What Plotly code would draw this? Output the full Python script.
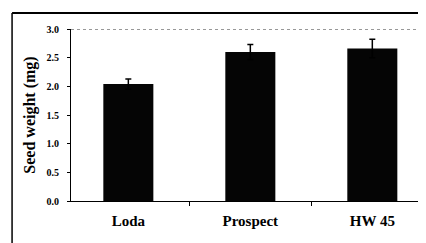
import plotly.graph_objects as go

categories = ["Loda", "Prospect", "HW 45"]
seed_weight = [2.04, 2.60, 2.66]
seed_err = [0.09, 0.13, 0.16]
y_ticks = [0.0, 0.5, 1.0, 1.5, 2.0, 2.5, 3.0]

FONT = "Liberation Serif, Times New Roman, serif"

fig = go.Figure(go.Bar(
    x=categories, y=seed_weight,
    marker=dict(color="#050505", line=dict(width=0)),
    width=0.41,
    error_y=dict(type="data", array=seed_err, visible=True, color="black",
                 thickness=1.5, width=3),
))

fig.update_layout(
    width=418, height=235,
    margin=dict(l=63, r=0, t=21, b=42),
    paper_bgcolor="white", plot_bgcolor="white",
    showlegend=False,
    font=dict(family=FONT, color="black"),
    xaxis=dict(
        type="category", range=[-0.47, 2.44],
        tickson="boundaries", ticks="outside", ticklen=4, tickcolor="black",
        showline=True, linecolor="black", linewidth=1,
        showgrid=False, ticklabelstandoff=6,
        tickfont=dict(family=FONT, size=15, color="black", weight="bold"),
    ),
    yaxis=dict(
        range=[0, 3.0], tickvals=y_ticks,
        ticktext=[f"{v:.1f}" for v in y_ticks],
        ticks="outside", ticklen=3, tickcolor="black",
        showline=True, linecolor="black", linewidth=1,
        showgrid=False, zeroline=False, ticklabelstandoff=6,
        tickfont=dict(family=FONT, size=10, color="black", weight="bold"),
        title=dict(text="Seed weight (mg)", standoff=6,
                   font=dict(family=FONT, size=16, color="black", weight="bold")),
    ),
    shapes=[
        dict(type="line", xref="paper", yref="y", x0=0, x1=1, y0=3.0, y1=3.0,
             line=dict(color="#333333", width=1, dash="dot")),
        dict(type="line", xref="paper", yref="paper", x0=-0.166, x1=1.0,
             y0=1.093, y1=1.093, line=dict(color="black", width=2)),
        dict(type="line", xref="paper", yref="paper", x0=-0.166, x1=-0.166,
             y0=1.093, y1=-0.3, line=dict(color="black", width=1.5)),
    ],
)

fig.write_html("out.html")
